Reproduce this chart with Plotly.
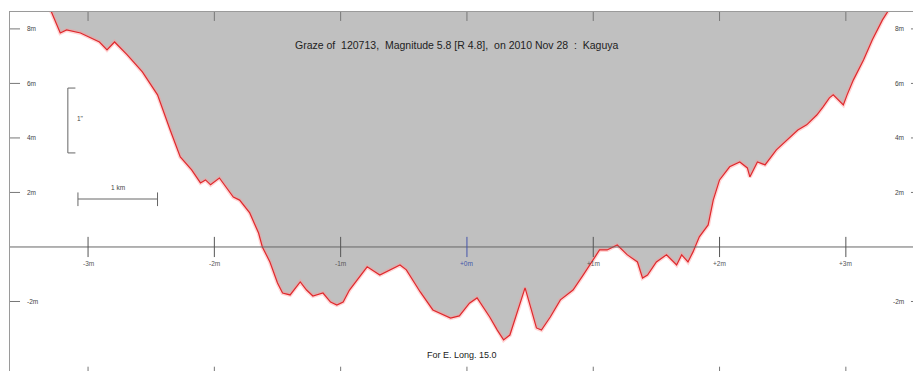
import plotly.graph_objects as go

# Limb profile (x in tick units, y in m)
prof_x = [-3.34, -3.29, -3.22, -3.17, -3.06, -3.00, -2.91, -2.85, -2.79, -2.69, -2.57, -2.45,
          -2.38, -2.35, -2.27, -2.18, -2.11, -2.07, -2.03, -1.96, -1.85, -1.80, -1.72, -1.65,
          -1.62, -1.56, -1.50, -1.46, -1.40, -1.32, -1.27, -1.22, -1.14, -1.08, -1.03, -0.98,
          -0.93, -0.79, -0.69, -0.53, -0.48, -0.37, -0.27, -0.13, -0.06, 0.02, 0.08, 0.18,
          0.24, 0.29, 0.34, 0.42, 0.46, 0.51, 0.55, 0.59, 0.66, 0.74, 0.84, 0.92, 1.00, 1.05,
          1.11, 1.19, 1.27, 1.35, 1.39, 1.43, 1.50, 1.58, 1.66, 1.70, 1.75, 1.79, 1.84, 1.91,
          1.95, 2.00, 2.08, 2.16, 2.22, 2.24, 2.30, 2.36, 2.45, 2.56, 2.62, 2.69, 2.77, 2.82,
          2.87, 2.90, 2.94, 2.98, 3.01, 3.06, 3.14, 3.21, 3.29, 3.33, 3.37]
prof_y = [9.06, 8.62, 7.85, 7.96, 7.85, 7.71, 7.52, 7.23, 7.52, 7.05, 6.42, 5.58,
          4.66, 4.29, 3.30, 2.83, 2.35, 2.46, 2.28, 2.53, 1.83, 1.72, 1.25, 0.51,
          0.00, -0.55, -1.32, -1.69, -1.76, -1.28, -1.58, -1.80, -1.69, -2.02, -2.13, -2.02,
          -1.58, -0.73, -1.03, -0.66, -0.84, -1.65, -2.31, -2.61, -2.53, -2.06, -1.87, -2.57,
          -3.05, -3.41, -3.23, -2.13, -1.50, -2.31, -2.97, -3.05, -2.57, -1.94, -1.58, -1.03, -0.48, -0.11,
          -0.11, 0.07, -0.29, -0.55, -1.14, -1.03, -0.55, -0.29, -0.66, -0.29, -0.55, -0.18, 0.37, 0.81,
          1.72, 2.46, 2.94, 3.12, 2.90, 2.57, 3.12, 3.01, 3.56, 4.04, 4.29, 4.48, 4.84, 5.14,
          5.47, 5.58, 5.39, 5.21, 5.58, 6.13, 6.86, 7.60, 8.33, 8.62, 9.06]

x_ticks = [-3, -2, -1, 0, 1, 2, 3]
x_tick_labels = ["-3m", "-2m", "-1m", "+0m", "+1m", "+2m", "+3m"]
y_ticks = [8, 6, 4, 2, -2]
y_tick_labels = ["8m", "6m", "4m", "2m", "-2m"]

X_RANGE = [-3.618, 3.595]
Y_RANGE = [-4.55, 8.62]
TOP = 20

FONT = "Liberation Sans, Arial, sans-serif"
TXT = "#444444"
AX = "#9a9a9a"

fig = go.Figure()

# grey lunar-limb fill (above profile)
fill_x = prof_x + [prof_x[-1], prof_x[0]]
fill_y = prof_y + [TOP, TOP]
fig.add_trace(go.Scatter(x=fill_x, y=fill_y, mode="lines", fill="toself",
                         fillcolor="#c0c0c0", line=dict(width=0), hoverinfo="skip"))
# glow
fig.add_trace(go.Scatter(x=prof_x, y=prof_y, mode="lines",
                         line=dict(color="rgba(255,150,150,0.4)", width=4), hoverinfo="skip"))
# red profile
fig.add_trace(go.Scatter(x=prof_x, y=prof_y, mode="lines",
                         line=dict(color="#e0282c", width=1.2)))

shapes = []
annotations = []

# zero line
shapes.append(dict(type="line", xref="paper", x0=0, x1=1, yref="y", y0=0, y1=0,
                   line=dict(color="#666666", width=1)))

for xv, lab in zip(x_ticks, x_tick_labels):
    col = "#4455aa" if xv == 0 else "#555555"
    shapes.append(dict(type="line", xref="x", x0=xv, x1=xv, yref="y", y0=-0.37, y1=0.37,
                       line=dict(color=col, width=1)))
    shapes.append(dict(type="line", xref="x", x0=xv, x1=xv, yref="paper", y0=1, y1=0.975,
                       line=dict(color="#777777", width=1)))
    shapes.append(dict(type="line", xref="x", x0=xv, x1=xv, yref="paper", y0=0, y1=0.012,
                       line=dict(color="#777777", width=1)))
    annotations.append(dict(x=xv, y=-0.6, xref="x", yref="y", text=lab, showarrow=False,
                            font=dict(size=6.5, color=col, family=FONT)))

for yv, lab in zip(y_ticks, y_tick_labels):
    shapes.append(dict(type="line", xref="paper", x0=0, x1=0.011, yref="y", y0=yv, y1=yv,
                       line=dict(color="#777777", width=1)))
    shapes.append(dict(type="line", xref="paper", x0=0.989, x1=1, yref="y", y0=yv, y1=yv,
                       line=dict(color="#777777", width=1)))
    annotations.append(dict(x=0.016, y=yv, xref="paper", yref="y", text=lab, xanchor="left",
                            showarrow=False, font=dict(size=6.5, color=TXT, family=FONT)))
    annotations.append(dict(x=0.984, y=yv, xref="paper", yref="y", text=lab, xanchor="right",
                            showarrow=False, font=dict(size=6.5, color=TXT, family=FONT)))

# vertical scale bar (1")
shapes += [
    dict(type="line", xref="x", yref="y", x0=-3.16, x1=-3.16, y0=3.45, y1=5.83, line=dict(color="#666", width=1)),
    dict(type="line", xref="x", yref="y", x0=-3.16, x1=-3.10, y0=5.83, y1=5.83, line=dict(color="#666", width=1)),
    dict(type="line", xref="x", yref="y", x0=-3.16, x1=-3.10, y0=3.45, y1=3.45, line=dict(color="#666", width=1)),
]
annotations.append(dict(x=-3.06, y=4.7, xref="x", yref="y", text='1"', showarrow=False,
                        font=dict(size=6.5, color=TXT, family=FONT)))
# horizontal scale bar (1 km)
shapes += [
    dict(type="line", xref="x", yref="y", x0=-3.08, x1=-2.45, y0=1.76, y1=1.76, line=dict(color="#666", width=1)),
    dict(type="line", xref="x", yref="y", x0=-3.08, x1=-3.08, y0=1.5, y1=2.0, line=dict(color="#666", width=1)),
    dict(type="line", xref="x", yref="y", x0=-2.45, x1=-2.45, y0=1.5, y1=2.0, line=dict(color="#666", width=1)),
]
annotations.append(dict(x=-2.76, y=2.2, xref="x", yref="y", text="1 km", showarrow=False,
                        font=dict(size=6.5, color=TXT, family=FONT)))

annotations.append(dict(x=-0.08, y=7.41, xref="x", yref="y",
                        text="Graze of  120713,  Magnitude 5.8 [R 4.8],  on 2010 Nov 28  :  Kaguya",
                        showarrow=False, font=dict(size=10.5, color="#222222", family=FONT)))
annotations.append(dict(x=-0.04, y=-3.98, xref="x", yref="y", text="For E. Long. 15.0",
                        showarrow=False, font=dict(size=9, color="#222222", family=FONT)))

# The page body has an 8px default margin, so the figure is sized/offset to compensate
fig.update_layout(
    width=913, height=363, autosize=False,
    margin=dict(l=2, r=0, t=4, b=0),
    paper_bgcolor="white", plot_bgcolor="white",
    showlegend=False,
    shapes=shapes, annotations=annotations,
    xaxis=dict(range=X_RANGE, showgrid=False, zeroline=False, showticklabels=False,
               ticks="", showline=True, mirror=True, linecolor=AX, linewidth=1),
    yaxis=dict(range=Y_RANGE, showgrid=False, zeroline=False, showticklabels=False,
               ticks="", showline=True, mirror=True, linecolor=AX, linewidth=1),
)

fig.write_html("out.html")
